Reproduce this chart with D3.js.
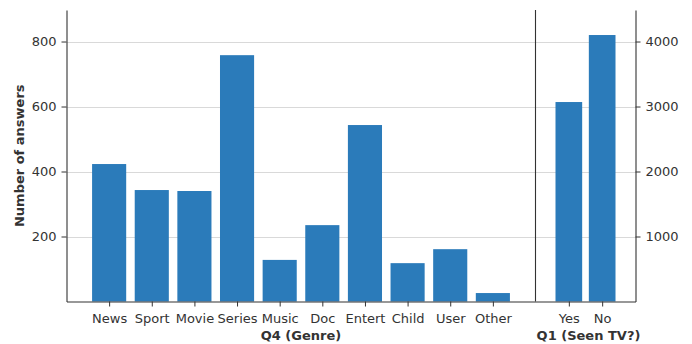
<!DOCTYPE html>
<html>
<head>
<meta charset="utf-8">
<script src="https://cdn.jsdelivr.net/npm/d3@7"></script>
<style>
  html, body { margin: 0; padding: 0; background: #fff; }
  svg text { font-family: "DejaVu Sans", sans-serif; fill: #333; }
</style>
</head>
<body>
<svg id="chart" width="692" height="344"></svg>
<script>
// Q4: genres watched
const genres = ["News", "Sport", "Movie", "Series", "Music", "Doc", "Entert", "Child", "User", "Other"];
const genreCounts = [423, 343, 340, 758, 128, 235, 543, 118, 161, 26];

// Q1: has the respondent seen TV
const seenLabels = ["Yes", "No"];
const seenCounts = [3069, 4100];

const leftTicks = [200, 400, 600, 800];
const rightTicks = [1000, 2000, 3000, 4000];

const barColor = "#2b7bba";
const gridColor = "#d9d9d9";
const axisColor = "#333";
const fontSize = "13px";

const svg = d3.select("#chart");
const plotTop = 10, plotBottom = 301.5;
const leftX0 = 66.5, splitX = 535.5, rightX1 = 635.5;

const yLeft = d3.scaleLinear().domain([0, 897]).range([plotBottom, plotTop]);
const yRight = d3.scaleLinear().domain([0, 4485]).range([plotBottom, plotTop]);

const xLeft = d3.scaleLinear().domain([-1, genres.length]).range([leftX0, splitX]);
const xRight = d3.scaleLinear().domain([-1, seenLabels.length]).range([splitX, rightX1]);

// horizontal grid lines
svg.append("g").selectAll("line").data(leftTicks).join("line")
  .attr("x1", leftX0).attr("x2", splitX)
  .attr("y1", d => Math.round(yLeft(d)) + 0.5).attr("y2", d => Math.round(yLeft(d)) + 0.5)
  .attr("stroke", gridColor).attr("stroke-width", 1.2);
svg.append("g").selectAll("line").data(rightTicks).join("line")
  .attr("x1", splitX).attr("x2", rightX1)
  .attr("y1", d => Math.round(yRight(d)) + 0.5).attr("y2", d => Math.round(yRight(d)) + 0.5)
  .attr("stroke", gridColor).attr("stroke-width", 1.2);

// bars
const wL = (xLeft(1) - xLeft(0)) * 0.8;
svg.append("g").selectAll("rect").data(genreCounts).join("rect")
  .attr("x", (d, i) => xLeft(i) - wL / 2)
  .attr("width", wL)
  .attr("y", d => yLeft(d))
  .attr("height", d => yLeft(0) - yLeft(d))
  .attr("fill", barColor);

const wR = (xRight(1) - xRight(0)) * 0.8;
svg.append("g").selectAll("rect").data(seenCounts).join("rect")
  .attr("x", (d, i) => xRight(i) - wR / 2)
  .attr("width", wR)
  .attr("y", d => yRight(d))
  .attr("height", d => yRight(0) - yRight(d))
  .attr("fill", barColor);

// axes
function styleAxis(g) {
  g.attr("font-size", null).attr("font-family", null);
  g.selectAll("path.domain").attr("stroke", axisColor).attr("stroke-width", 1.1);
  g.selectAll(".tick line").attr("stroke", axisColor).attr("stroke-width", 1);
  g.selectAll(".tick text").attr("fill", "#333").style("font-size", fontSize);
}

svg.append("g").attr("transform", `translate(${leftX0},0)`)
  .call(d3.axisLeft(yLeft).tickValues(leftTicks).tickFormat(d3.format("d")).tickSize(5).tickPadding(5).tickSizeOuter(0))
  .call(styleAxis);

svg.append("g").attr("transform", `translate(${rightX1},0)`)
  .call(d3.axisRight(yRight).tickValues(rightTicks).tickFormat(d3.format("d")).tickSize(5).tickPadding(5).tickSizeOuter(0))
  .call(styleAxis);

svg.append("g").attr("transform", `translate(0,${plotBottom})`)
  .call(d3.axisBottom(xLeft).tickValues(d3.range(genres.length)).tickFormat(i => genres[i]).tickSize(5).tickPadding(7.5).tickSizeOuter(0))
  .call(styleAxis);

svg.append("g").attr("transform", `translate(0,${plotBottom})`)
  .call(d3.axisBottom(xRight).tickValues(d3.range(seenLabels.length)).tickFormat(i => seenLabels[i]).tickSize(5).tickPadding(7.5).tickSizeOuter(0))
  .call(styleAxis);

// divider between the two panels
svg.append("line")
  .attr("x1", splitX).attr("x2", splitX).attr("y1", plotTop).attr("y2", plotBottom)
  .attr("stroke", axisColor).attr("stroke-width", 1.1);

// axis titles
svg.append("text")
  .attr("x", (leftX0 + splitX) / 2).attr("y", 339.5)
  .attr("text-anchor", "middle")
  .style("font-size", fontSize).style("font-weight", "bold")
  .text("Q4 (Genre)");

svg.append("text")
  .attr("x", (splitX + rightX1) / 2 + 3).attr("y", 339.5)
  .attr("text-anchor", "middle")
  .style("font-size", fontSize).style("font-weight", "bold")
  .text("Q1 (Seen TV?)");

svg.append("text")
  .attr("transform", `translate(24,${(plotTop + plotBottom) / 2}) rotate(-90)`)
  .attr("text-anchor", "middle")
  .style("font-size", fontSize).style("font-weight", "bold")
  .text("Number of answers");
</script>
</body>
</html>
